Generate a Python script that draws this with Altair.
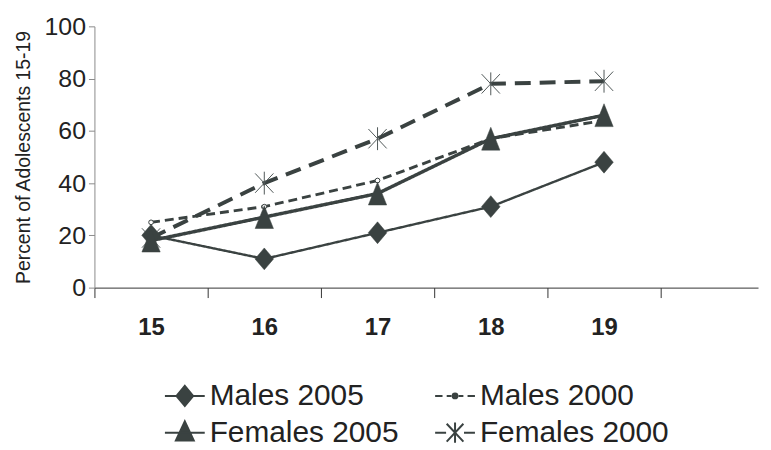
import altair as alt
import pandas as pd

ages = [15, 16, 17, 18, 19]
series_names = ["Males 2005", "Males 2000", "Females 2005", "Females 2000"]
males_2005 = [20, 11, 21, 31, 48]
males_2000 = [25, 31, 41, 57, 64]
females_2005 = [18, 27, 36, 57, 66]
females_2000 = [19, 40, 57, 78, 79]
x_tick_values = [14.5, 15, 15.5, 16, 16.5, 17, 17.5, 18, 18.5, 19, 19.5]
y_tick_values = [0, 20, 40, 60, 80, 100]

values_by_series = {
    "Males 2005": males_2005,
    "Males 2000": males_2000,
    "Females 2005": females_2005,
    "Females 2000": females_2000,
}
rows = []
for name in series_names:
    for a, v in zip(ages, values_by_series[name]):
        rows.append({"age": a, "pct": v, "series": name})
df = pd.DataFrame(rows)

INK = "#3a4241"
SANS = "'Liberation Sans', Arial, sans-serif"

x_enc = alt.X(
    "age:Q",
    scale=alt.Scale(domain=[14.5, 20.36], nice=False, zero=False),
    axis=alt.Axis(
        title=None,
        values=x_tick_values,
        labelExpr="datum.value % 1 === 0 ? format(datum.value, 'd') : ''",
        tickOpacity={"condition": {"test": "datum.value % 1 === 0", "value": 0}, "value": 1},
        tickSize=10,
        tickColor="#333333",
        domainColor="#333333",
        labelFont=SANS,
        labelFontSize=24,
        labelFontWeight="bold",
        labelColor="#222222",
        labelPadding=18,
        grid=False,
    ),
)
y_enc = alt.Y(
    "pct:Q",
    scale=alt.Scale(domain=[0, 100], nice=False),
    axis=alt.Axis(
        title="Percent of Adolescents 15-19",
        titleFont=SANS,
        titleFontSize=19.5,
        titleFontWeight="normal",
        titleColor="#222222",
        titlePadding=11,
        values=y_tick_values,
        tickSize=6,
        tickColor="#8a8a8a",
        domainColor="#8a8a8a",
        labelFont=SANS,
        labelFontSize=25,
        labelColor="#222222",
        labelPadding=3,
        grid=False,
    ),
)

base = alt.Chart(df)

# line-style scales use a different domain order than the legend's shape scale,
# so Vega-Lite does not merge their (hidden) legends into the visible one
line_order = ["Females 2000", "Females 2005", "Males 2000", "Males 2005"]
lines = base.mark_line(color=INK).encode(
    x=x_enc,
    y=y_enc,
    detail="series:N",
    strokeDash=alt.StrokeDash(
        "series:N",
        scale=alt.Scale(domain=line_order, range=[[16, 9], [1, 0], [9, 5], [1, 0]]),
        legend=None,
    ),
    strokeWidth=alt.StrokeWidth(
        "series:N",
        scale=alt.Scale(domain=line_order, range=[4, 2.4, 2, 1.6]),
        legend=None,
    ),
)

diamond = "M0,-1L0.85,0L0,1L-0.85,0Z"
triangle = "M0,-1L0.8,1L-0.8,1Z"
asterisk = "M0,-1V1M-0.8,-0.85L0.8,0.85M0.8,-0.85L-0.8,0.85"

pts_m05 = base.transform_filter(alt.datum.series == "Males 2005").mark_point(
    shape=diamond, size=484, filled=True, fill=INK, stroke=INK, strokeWidth=0.5, opacity=1
).encode(x=x_enc, y=y_enc)
pts_m00 = base.transform_filter(alt.datum.series == "Males 2000").mark_point(
    shape="circle", size=22, filled=True, fill="white", stroke=INK, strokeWidth=1, opacity=1
).encode(x=x_enc, y=y_enc)
pts_f05 = base.transform_filter(alt.datum.series == "Females 2005").mark_point(
    shape=triangle, size=529, filled=True, fill=INK, stroke=INK, strokeWidth=0.5, opacity=1
).encode(x=x_enc, y=y_enc)
pts_f00 = base.transform_filter(alt.datum.series == "Females 2000").mark_point(
    shape=asterisk, size=529, filled=False, stroke="#505858", strokeWidth=1, opacity=1
).encode(x=x_enc, y=y_enc)

# legend entries are laid out column by column, so this order gives
# row 1: Males 2005, Males 2000 / row 2: Females 2005, Females 2000
legend_order = ["Males 2005", "Females 2005", "Males 2000", "Females 2000"]
legend_paths = [
    "M-1.67,0H1.67M0,-0.85L0.7,0L0,0.85L-0.7,0Z",
    "M-1.67,0H1.67M0,-0.95L0.75,0.65L-0.75,0.65Z",
    "M-1.67,0H-1.05M-0.7,0H-0.3M0.3,0H0.7M1.05,0H1.67"
    "M-0.2,0A0.2,0.2 0 1 0 0.2,0A0.2,0.2 0 1 0 -0.2,0Z",
    "M-1.67,0H-0.75M0.75,0H1.67M0,-0.85V0.85M-0.7,-0.75L0.7,0.75M0.7,-0.75L-0.7,0.75",
]

legend_layer = base.transform_filter("false").mark_point(
    filled=False, fill=INK, stroke=INK, strokeWidth=2, opacity=1
).encode(
    x=x_enc,
    y=y_enc,
    shape=alt.Shape(
        "series:N",
        scale=alt.Scale(domain=legend_order, range=legend_paths),
        legend=alt.Legend(
            title=None,
            orient="none",
            legendX=76,
            legendY=357,
            columns=2,
            columnPadding=31,
            rowPadding=6,
            symbolSize=576,
            symbolStrokeWidth=2,
            labelFont=SANS,
            labelFontSize=30,
            labelColor="#222222",
            labelOffset=10,
            labelLimit=400,
            padding=0,
        ),
    ),
)

chart = (
    alt.layer(lines, pts_m00, pts_f00, pts_m05, pts_f05, legend_layer)
    .properties(width=668, height=263)
    .configure_view(stroke=None)
)

chart.save("out.html", embed_options={"renderer": "svg", "actions": False})
